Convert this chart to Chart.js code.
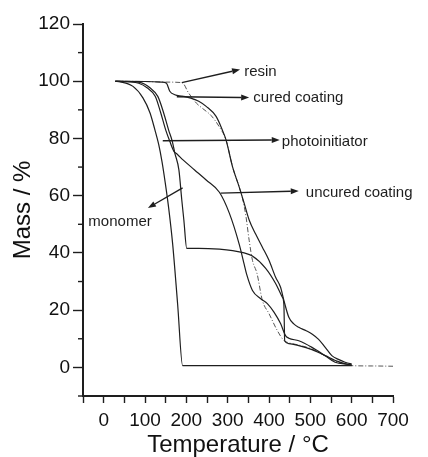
<!DOCTYPE html>
<html>
<head>
<meta charset="utf-8">
<script src="https://cdn.jsdelivr.net/npm/chart.js@4/dist/chart.umd.min.js"></script>
<style>
  html,body{margin:0;padding:0;background:#fff;}
  canvas{display:block;}
</style>
</head>
<body>
<canvas id="tga" width="428" height="457"></canvas>
<script>
// TGA curves (temperature in °C, mass in %)
const photoT = [28, 40, 71, 95, 112, 124, 133, 141, 149, 157, 167, 179, 191, 300, 400, 500, 600];
const photoM = [100, 99.8, 98.2, 94.2, 89, 83, 78, 72, 64.5, 56, 43, 22, 0.6, 0.6, 0.6, 0.6, 0.6];

const monoT = [28, 60, 88, 112, 131, 145, 157, 166, 172, 182, 189, 194, 201, 230, 280, 312, 340, 359, 392, 416, 432, 436, 438, 448, 472, 504, 536, 568, 592, 600];
const monoM = [100, 99.9, 99.6, 97.7, 94.7, 89, 83, 79, 75, 69, 58.5, 51.5, 41.6, 41.6, 41.3, 40.8, 40, 39, 34.6, 29.3, 24.6, 22, 9.3, 8.3, 7.6, 6.2, 4.1, 2, 1, 0.8];

const uncuredT = [28, 60, 85, 105, 125, 138, 150, 160, 170, 178, 192, 220, 248, 280, 304, 328, 340, 346, 360, 380, 396, 412, 428, 440, 448, 472, 504, 536, 560, 592, 600];
const uncuredM = [100, 99.8, 99.3, 97.7, 94.7, 89, 83, 79, 75.5, 74.5, 72.5, 69, 65.5, 61.2, 53.9, 43, 36, 32.5, 26.9, 24, 22.3, 19.3, 15.3, 11.1, 10.2, 9.3, 7, 4.1, 1.8, 1, 0.8];

const curedT = [28, 100, 140, 152, 160, 172, 190, 208, 230, 248, 272, 287, 296, 312, 328, 340, 352, 368, 384, 400, 416, 428, 436, 448, 460, 472, 490, 504, 520, 536, 552, 568, 584, 596, 600];
const curedM = [100, 99.9, 99.7, 99.3, 96.5, 95.3, 94.8, 94.2, 93, 91.2, 87.7, 83, 79.5, 70, 63, 57.3, 51.5, 46.5, 42, 37.4, 31.5, 28, 23.4, 17.5, 15.2, 14, 12.8, 11.7, 9.8, 7, 4.1, 2.8, 1.8, 1.3, 1.2];

const resinT = [28, 100, 150, 190, 205, 224, 240, 260, 280, 296, 312, 328, 336, 344, 352, 360, 371, 384, 400, 420, 436, 448, 472, 504, 536, 568, 592, 600, 650, 700];
const resinM = [100, 99.9, 99.7, 99.5, 96, 92.4, 90.4, 88, 84, 79.5, 70, 63, 59, 53, 44.4, 37.4, 32.8, 23.4, 18.8, 12.9, 9.4, 8.6, 7.8, 6.4, 4, 1.8, 1, 0.6, 0.5, 0.4];

const xTickLabels = [0, 100, 200, 300, 400, 500, 600, 700];
const yTickLabels = [0, 20, 40, 60, 80, 100, 120];

// annotation arrows: tail -> head, in data units, text after the head
const noteText = ['resin', 'cured coating', 'photoinitiator', 'uncured coating', 'monomer'];
const noteFrom = [[189, 99.5], [177, 94.6], [143, 79.2], [283, 60.9], [191, 62.7]];
const noteTo   = [[330, 104.1], [352, 94.3], [426, 79.5], [472, 61.6], [107, 55.7]];
const noteAt   = [[340, 103.4], [362, 94.3], [431, 78.8], [489, 60.9], [-37, 50.7]];

const FONT = "'Liberation Sans', Arial, sans-serif";
const INK = '#1e1e1e';

const pts = (T, M) => T.map((t, i) => ({x: t, y: M[i]}));

function series(label, T, M, extra){
  return Object.assign({
    label, data: pts(T, M),
    borderColor: INK, borderWidth: 1.2,
    pointRadius: 0, fill: false,
    cubicInterpolationMode: 'monotone'
  }, extra || {});
}

const notesPlugin = {
  id: 'notes',
  afterDatasetsDraw(chart){
    const {ctx, scales:{x, y}} = chart;
    ctx.save();
    ctx.strokeStyle = INK; ctx.fillStyle = INK; ctx.lineWidth = 1.4;
    noteText.forEach((txt, i) => {
      const x0 = x.getPixelForValue(noteFrom[i][0]), y0 = y.getPixelForValue(noteFrom[i][1]);
      const x1 = x.getPixelForValue(noteTo[i][0]),   y1 = y.getPixelForValue(noteTo[i][1]);
      const a = Math.atan2(y1 - y0, x1 - x0);
      const hl = 8, hw = 3;
      ctx.beginPath();
      ctx.moveTo(x0, y0);
      ctx.lineTo(x1 - hl*Math.cos(a), y1 - hl*Math.sin(a));
      ctx.stroke();
      ctx.beginPath();
      ctx.moveTo(x1, y1);
      ctx.lineTo(x1 - hl*Math.cos(a) + hw*Math.sin(a), y1 - hl*Math.sin(a) - hw*Math.cos(a));
      ctx.lineTo(x1 - hl*Math.cos(a) - hw*Math.sin(a), y1 - hl*Math.sin(a) + hw*Math.cos(a));
      ctx.closePath(); ctx.fill();
      ctx.font = '15px ' + FONT;
      ctx.textAlign = 'left'; ctx.textBaseline = 'middle';
      ctx.fillText(txt, x.getPixelForValue(noteAt[i][0]), y.getPixelForValue(noteAt[i][1]));
    });
    // short minor ticks on the mass axis
    ctx.lineWidth = 1.4;
    y.ticks.forEach(t => {
      if (t.value % 20 === 0) return;
      const py = y.getPixelForValue(t.value);
      ctx.beginPath(); ctx.moveTo(x.left - 5, py); ctx.lineTo(x.left, py); ctx.stroke();
    });
    ctx.restore();
  }
};

new Chart(document.getElementById('tga'), {
  type: 'line',
  data: {
    datasets: [
      series('photoinitiator', photoT, photoM),
      series('monomer', monoT, monoM),
      series('uncured coating', uncuredT, uncuredM),
      series('cured coating', curedT, curedM),
      series('resin', resinT, resinM, {borderColor: '#555', borderWidth: 1, borderDash: [5, 2, 1, 2]})
    ]
  },
  options: {
    responsive: false,
    animation: false,
    layout: { padding: { top: 24, right: 35, left: 0, bottom: 0 } },
    plugins: { legend: { display: false }, tooltip: { enabled: false } },
    scales: {
      x: {
        type: 'linear', min: -50, max: 700,
        afterFit: s => { s.height = 61; },
        border: { display: true, color: INK, width: 2 },
        grid: { drawOnChartArea: false, drawTicks: true, tickLength: 7, tickColor: INK, tickWidth: 1.4 },
        ticks: {
          stepSize: 50, color: '#111', padding: 6, maxRotation: 0, autoSkip: false,
          font: { family: FONT, size: 19 },
          callback: v => xTickLabels.includes(v) ? String(v) : ''
        },
        title: { display: true, text: 'Temperature / °C', color: '#111',
                 font: { family: FONT, size: 24 }, padding: { top: 0, bottom: -3 } }
      },
      y: {
        type: 'linear', min: -10, max: 120,
        afterFit: s => { s.width = 83; },
        border: { display: true, color: INK, width: 2 },
        grid: { drawOnChartArea: false, drawTicks: true, tickLength: 10, tickWidth: 1.4,
                tickColor: c => (c.tick && c.tick.value % 20 === 0) ? INK : 'rgba(0,0,0,0)' },
        ticks: {
          stepSize: 10, color: '#111', padding: 3, autoSkip: false,
          font: { family: FONT, size: 19 },
          callback: v => yTickLabels.includes(v) ? String(v) : ''
        },
        title: { display: true, text: 'Mass / %', color: '#111',
                 font: { family: FONT, size: 24 }, padding: { top: 9, bottom: 0 } }
      }
    }
  },
  plugins: [notesPlugin]
});
</script>
</body>
</html>
